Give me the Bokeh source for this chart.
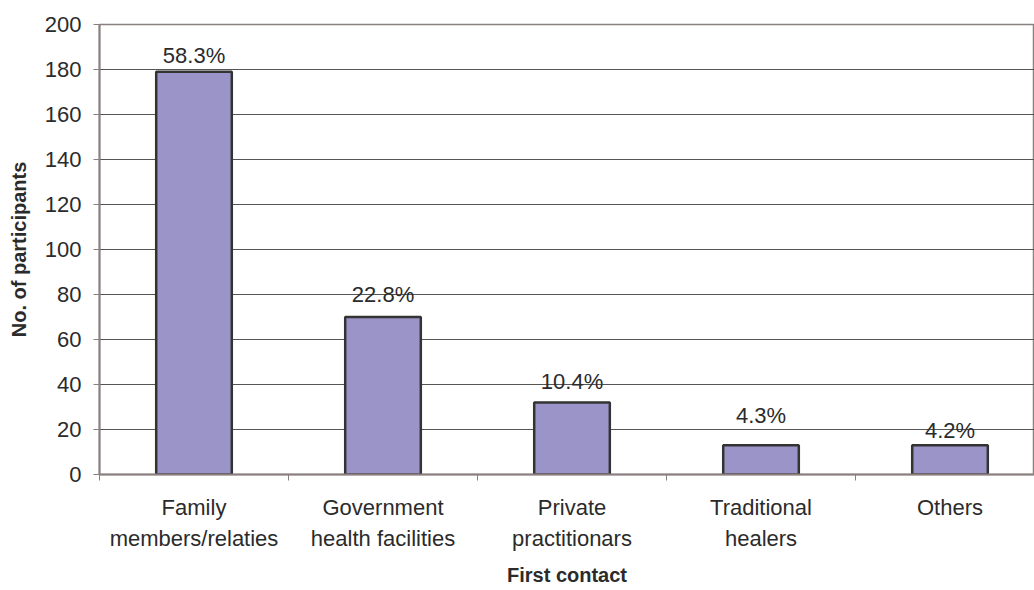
from bokeh.plotting import figure
from bokeh.models import Range1d, FixedTicker, ColumnDataSource
from bokeh.embed import file_html
from bokeh.resources import INLINE
from bokeh.core.properties import value

# ---- data ----
categories = ["Family\nmembers/relaties", "Government\nhealth facilities",
              "Private\npractitionars", "Traditional\nhealers", "Others"]
participants = [179, 70, 32, 13, 13]
percent_labels = ["58.3%", "22.8%", "10.4%", "4.3%", "4.2%"]
y_ticks = [0, 20, 40, 60, 80, 100, 120, 140, 160, 180, 200]

# styling: gap (px) between bar top and its value label
label_gap = [8, 15, 13, 22, 7]

FONT = "Liberation Sans"
TXT = "#2b2b2b"
AXIS = "#8a8080"

pos = list(range(len(categories)))
bounds = [p - 0.5 for p in pos] + [pos[-1] + 0.5]

src = ColumnDataSource(dict(x=pos, top=participants, lab=percent_labels,
                            yoff=[-(g + 8) for g in label_gap]))

p = figure(width=1034, height=590, output_backend="svg", toolbar_location=None,
           x_range=Range1d(-0.5, 4.447), y_range=Range1d(0, 200),
           min_border_left=99, min_border_right=0, min_border_top=24,
           min_border_bottom=116)

p.outline_line_color = AXIS
p.outline_line_width = 1.5
p.background_fill_color = "white"
p.border_fill_color = "white"

p.vbar(x="x", top="top", width=0.40, bottom=0, source=src,
       fill_color="#9b94c8", line_color="#333333", line_width=2.5)

p.text(x="x", y="top", text="lab", source=src, y_offset="yoff",
       text_align="center", text_baseline="alphabetic",
       text_font=value(FONT), text_font_size="22px", text_color=TXT)

# grid
p.xgrid.grid_line_color = None
p.ygrid.ticker = FixedTicker(ticks=y_ticks)
p.ygrid.grid_line_color = "#555555"
p.ygrid.grid_line_width = 1

# y axis
p.yaxis.ticker = FixedTicker(ticks=y_ticks)
p.yaxis.axis_label = "No. of participants"
p.yaxis.axis_label_text_font = FONT
p.yaxis.axis_label_text_font_style = "bold"
p.yaxis.axis_label_text_font_size = "20px"
p.yaxis.axis_label_text_color = TXT
p.yaxis.axis_label_standoff = 12
p.yaxis.major_label_text_font = FONT
p.yaxis.major_label_text_font_size = "22px"
p.yaxis.major_label_text_color = TXT
p.yaxis.major_label_standoff = 12
p.yaxis.axis_line_color = AXIS
p.yaxis.axis_line_width = 2
p.yaxis.major_tick_line_color = AXIS
p.yaxis.major_tick_in = 0
p.yaxis.major_tick_out = 6
p.yaxis.minor_tick_line_color = None

# x axis
p.xaxis.ticker = FixedTicker(ticks=pos, minor_ticks=bounds)
p.xaxis.major_label_overrides = {i: c for i, c in zip(pos, categories)}
p.xaxis.major_label_text_font = FONT
p.xaxis.major_label_text_font_size = "22px"
p.xaxis.major_label_text_color = TXT
p.xaxis.major_label_text_line_height = 1.25
p.xaxis.major_label_standoff = 14
p.xaxis.major_tick_line_color = None
p.xaxis.major_tick_in = 0
p.xaxis.major_tick_out = 0
p.xaxis.minor_tick_line_color = AXIS
p.xaxis.minor_tick_in = 0
p.xaxis.minor_tick_out = 6
p.xaxis.axis_line_color = AXIS
p.xaxis.axis_line_width = 2
p.xaxis.axis_label = "First contact"
p.xaxis.axis_label_text_font = FONT
p.xaxis.axis_label_text_font_style = "bold"
p.xaxis.axis_label_text_font_size = "20px"
p.xaxis.axis_label_text_color = TXT
p.xaxis.axis_label_standoff = 10

open("out.html", "w").write(file_html(p, INLINE))
